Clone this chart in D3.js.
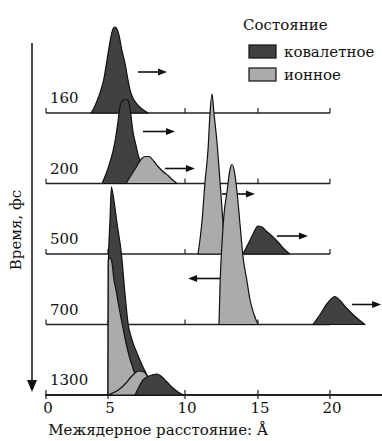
<!DOCTYPE html>
<html>
<head>
<meta charset="utf-8">
<script src="https://cdn.jsdelivr.net/npm/d3@7"></script>
<style>
  body { margin: 0; background: #fff; }
  svg { display: block; font-family: "DejaVu Serif", serif; }
</style>
</head>
<body>
<figure id="chart" style="margin:0"></figure>
<script>
// time slices (fs), one row each
const times = ['160', '200', '500', '700', '1300'];
const xTicks = [0, 5, 10, 15, 20];
const legendLabels = ['ковалетное', 'ионное'];

// [distance Å, intensity]
const cov160 = [[3.63,0],[3.87,5],[4.11,12],[4.35,20],[4.68,35],[4.92,53],[5.19,76],[5.32,84],[5.45,86],[5.58,84],[5.71,78],[5.91,62],[6.10,50],[6.30,33],[6.43,23],[6.62,15],[6.88,9],[7.21,4],[7.60,0]];
const cov200 = [[4.52,0],[5.0,15],[5.32,32],[5.52,48],[5.65,62],[5.78,77],[5.97,83],[6.23,84],[6.43,75],[6.62,52],[6.82,38],[6.95,29],[7.21,18],[7.60,8],[8.05,0]];
const ion200 = [[6.17,0],[6.49,8],[6.82,16],[7.14,24],[7.40,27],[7.66,27],[7.99,22],[8.25,17],[8.57,12],[8.90,8],[9.16,4],[9.48,0]];
const ion500 = [[10.89,0],[11.16,32],[11.37,72],[11.58,105],[11.71,140],[11.85,160],[11.99,140],[12.19,112],[12.40,72],[12.60,32],[12.74,0]];
const cov500 = [[13.97,0],[14.32,10],[14.66,20],[15.0,28],[15.28,27],[15.56,23],[15.97,18],[16.39,12],[16.81,5],[17.22,0]];
const ion700 = [[12.33,0],[12.40,40],[12.53,80],[12.67,110],[12.88,133],[13.08,155],[13.22,160],[13.42,150],[13.56,133],[13.77,100],[13.97,68],[14.25,43],[14.45,25],[14.73,10],[15.0,0]];
const cov700 = [[18.82,0],[19.31,10],[19.86,22],[20.35,28],[20.69,24],[21.18,16],[21.74,8],[22.43,0]];
const cov1300a = [[5.0,0],[5.02,130],[5.13,175],[5.22,208],[5.33,200],[5.60,170],[5.88,140],[6.08,105],[6.30,72],[6.56,55],[6.88,42],[7.21,30],[7.60,18],[8.05,8],[8.51,0]];
const ion1300a = [[5.0,0],[5.02,135],[5.13,137],[5.26,132],[5.39,115],[5.52,105],[5.71,88],[5.91,72],[6.17,52],[6.43,36],[6.62,27],[6.88,15],[7.14,6],[7.40,0]];
const ion1300b = [[5.0,0],[5.45,3],[5.84,7],[6.17,12],[6.43,17],[6.69,21],[7.01,24],[7.34,23],[7.66,16],[7.99,6],[8.25,0]];
const cov1300b = [[6.75,0],[7.01,8],[7.27,15],[7.53,18],[7.86,20],[8.18,21],[8.44,19],[8.83,13],[9.22,7],[9.55,3],[9.87,0]];

// drift arrows: [row, from Å, to Å, height]
const arrows = [
  ['160', 6.95, 8.83, 41],
  ['200', 7.27, 9.35, 52],
  ['200', 8.70, 10.68, 15],
  ['500', 12.53, 14.79, 60],
  ['500', 16.32, 18.47, 18],
  ['700', 12.40, 10.21, 46],
  ['700', 21.53, 23.55, 20],
];

const series = [
  { row: '160', type: 'cov', pts: cov160 },
  { row: '200', type: 'cov', pts: cov200 },
  { row: '200', type: 'ion', pts: ion200 },
  { row: '500', type: 'ion', pts: ion500 },
  { row: '500', type: 'cov', pts: cov500 },
  { row: '700', type: 'ion', pts: ion700 },
  { row: '700', type: 'cov', pts: cov700 },
  { row: '1300', type: 'cov', pts: cov1300a },
  { row: '1300', type: 'ion', pts: ion1300a },
  { row: '1300', type: 'ion', pts: ion1300b },
  { row: '1300', type: 'cov', pts: cov1300b },
];

const width = 382;
const height = 441;
const fills = { cov: '#414141', ion: '#ababab' };

const svg = d3.select('figure#chart')
  .append('svg')
  .attr('width', width)
  .attr('height', height);

svg.append('rect').attr('width', width).attr('height', height).attr('fill', '#fff');

// x: the drawing compresses 0-5 a little
const x = d3.scaleLinear()
  .domain([0, 5, 10, 15, 20])
  .range([46, 108, 185, 258, 330]);

const row = d3.scalePoint()
  .domain(times)
  .range([113, 395]);

const amp = d3.scaleLinear().domain([0, 100]).range([0, 100]);

// row baselines
times.forEach(t => {
  const g = svg.append('g').attr('transform', 'translate(0,' + row(t) + ')');
  if (t !== '1300') {
    g.append('line')
      .attr('x1', x(0)).attr('x2', x(20))
      .attr('stroke', '#222').attr('stroke-width', 1.6);
    g.selectAll('.tk')
      .data(xTicks)
      .enter()
      .append('line')
      .attr('x1', d => x(d)).attr('x2', d => x(d))
      .attr('y1', 0).attr('y2', -5)
      .attr('stroke', '#222').attr('stroke-width', 1.2);
  }
  g.append('text')
    .attr('x', 50).attr('y', -10)
    .attr('font-size', 15)
    .attr('fill', '#111')
    .text(t);
});

// bottom axis
const axisG = svg.append('g').attr('transform', 'translate(0,' + row('1300') + ')');
axisG.append('line')
  .attr('x1', x(0) - 1).attr('x2', width)
  .attr('stroke', '#222').attr('stroke-width', 1.8);
axisG.selectAll('.tk')
  .data(xTicks)
  .enter()
  .append('line')
  .attr('x1', d => x(d)).attr('x2', d => x(d))
  .attr('y1', -5).attr('y2', 4)
  .attr('stroke', '#222').attr('stroke-width', 1.2);
axisG.selectAll('.tl')
  .data(xTicks)
  .enter()
  .append('text')
  .attr('x', d => x(d) + 2)
  .attr('y', 18)
  .attr('text-anchor', 'middle')
  .attr('font-size', 15)
  .attr('fill', '#111')
  .text(d => d);

svg.append('text')
  .attr('x', 158).attr('y', 435)
  .attr('text-anchor', 'middle')
  .attr('font-size', 15)
  .attr('fill', '#111')
  .text('Межядерное расстояние: Å');

// time axis arrow
svg.append('line')
  .attr('x1', 32).attr('x2', 32)
  .attr('y1', 43).attr('y2', 382)
  .attr('stroke', '#222').attr('stroke-width', 1.6);
svg.append('path')
  .attr('d', 'M27,380 L37,380 L32,392 Z')
  .attr('fill', '#111');
svg.append('text')
  .attr('transform', 'translate(21,230) rotate(-90)')
  .attr('text-anchor', 'middle')
  .attr('font-size', 15)
  .attr('fill', '#111')
  .text('Время, фс');

// each row: its peaks, then its arrows; lower rows overlap upper ones
times.forEach(t => {
  const base = row(t);
  const area = d3.area()
    .x(d => x(d[0]))
    .y0(base)
    .y1(d => base - amp(d[1]))
    .curve(d3.curveMonotoneX);

  series.filter(s => s.row === t).forEach(s => {
    svg.append('path')
      .datum(s.pts)
      .attr('d', area)
      .attr('fill', fills[s.type])
      .attr('stroke', '#111')
      .attr('stroke-width', 1.2)
      .attr('stroke-linejoin', 'round');
  });

  arrows.filter(a => a[0] === t).forEach(a => {
    const y = base - amp(a[3]);
    const x1 = x(a[1]);
    const x2 = x(a[2]);
    const dir = x2 > x1 ? 1 : -1;
    svg.append('line')
      .attr('x1', x1).attr('x2', x2 - dir * 6)
      .attr('y1', y).attr('y2', y)
      .attr('stroke', '#111').attr('stroke-width', 1.6);
    svg.append('path')
      .attr('d', 'M' + x2 + ',' + y + ' L' + (x2 - dir * 9) + ',' + (y - 3.5) + ' L' + (x2 - dir * 9) + ',' + (y + 3.5) + ' Z')
      .attr('fill', '#111');
  });
});

// legend
const leg = svg.append('g').attr('transform', 'translate(243,0)');
leg.append('text')
  .attr('x', 0).attr('y', 30)
  .attr('font-size', 15)
  .attr('fill', '#111')
  .text('Состояние');
legendLabels.forEach((lab, i) => {
  const yy = 45 + i * 23;
  leg.append('rect')
    .attr('x', 6).attr('y', yy)
    .attr('width', 27).attr('height', 13)
    .attr('fill', i === 0 ? fills.cov : fills.ion)
    .attr('stroke', '#111').attr('stroke-width', 1.2);
  leg.append('text')
    .attr('x', 41).attr('y', yy + 12)
    .attr('font-size', 15)
    .attr('fill', '#111')
    .text(lab);
});
</script>
</body>
</html>
